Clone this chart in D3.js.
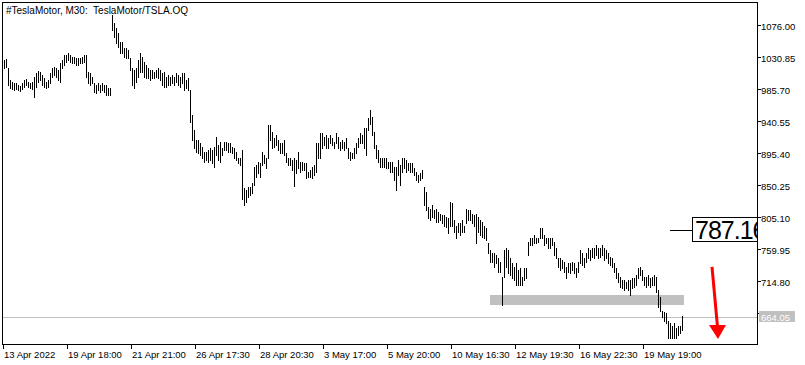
<!DOCTYPE html>
<html>
<head>
<meta charset="utf-8">
<script src="https://cdn.jsdelivr.net/npm/d3@7"></script>
<style>
body { margin: 0; background: #fff; }
svg text { font-family: "Liberation Sans", Arial, sans-serif; white-space: pre; }
</style>
</head>
<body>
<svg id="svg"></svg>
<script>
// M30 bars, high and low of each bar, oldest first
var title = "#TeslaMotor, M30:  TeslaMotor/TSLA.OQ";

var highs = [
    1027,1028,1015,998,995,994,994,991,990,994,
    998,1000,995,994,995,1002,1008,1011,1010,1005,
    1001,995,998,1008,1015,1017,1015,1012,1022,1026,
    1034,1034,1036,1034,1031,1031,1029,1029,1029,1031,
    1034,1034,1010,1008,1002,994,991,994,991,994,
    991,991,987,987,1090,1079,1072,1065,1052,1052,
    1044,1044,1041,1029,1015,1012,1015,1026,1036,1031,
    1024,1019,1015,1012,1012,1010,1012,1015,1012,1008,
    1010,1002,1005,1002,1005,1002,1008,1005,1002,1008,
    1008,998,1001,984,949,928,914,914,909,904,
    897,897,899,902,899,904,918,907,911,902,
    911,911,909,909,904,902,897,888,888,899,
    846,843,847,847,853,875,878,882,881,897,
    892,888,935,935,925,916,921,914,909,909,
    914,895,888,888,885,889,885,897,882,882,
    881,881,868,871,875,878,909,909,923,923,
    918,921,916,921,916,911,923,918,911,914,
    911,916,902,897,895,902,909,916,923,921,
    930,930,945,956,946,925,906,899,889,889,
    888,889,882,882,882,875,875,885,878,888,
    889,885,881,881,881,874,868,864,867,871,
    847,840,819,817,822,815,817,812,810,808,
    808,805,803,826,825,801,793,796,796,801,
    793,817,815,815,810,808,810,805,801,798,
    793,789,768,758,755,754,751,747,741,720,
    758,761,758,747,740,734,740,730,733,720,
    733,733,770,776,776,779,776,776,789,789,
    779,776,775,775,776,770,761,747,747,744,
    741,734,740,740,741,740,733,741,758,754,
    747,754,761,758,762,761,765,761,761,765,
    761,758,754,748,747,740,733,726,720,716,
    716,713,716,716,719,719,723,733,734,730,
    720,720,723,719,720,723,720,702,692,673,
    671,669,659,655,652,655,649,652,652,665
];

var lows = [
    1015,1017,991,987,986,984,986,984,983,986,
    988,991,988,987,986,974,988,995,998,991,
    988,987,988,994,1002,1005,1002,998,995,1015,
    1019,1024,1026,1024,1022,1022,1019,1019,1022,1022,
    1024,1002,994,991,994,981,980,984,981,984,
    981,977,977,977,1069,1059,1051,1045,1036,1036,
    1031,1029,1029,1012,991,987,995,1002,1010,1010,
    1002,1001,1001,998,1001,1001,1002,1001,998,991,
    988,988,991,991,994,991,995,991,988,994,
    984,987,984,939,914,902,897,895,892,889,
    882,885,882,885,881,875,892,885,882,892,
    899,899,897,897,895,889,885,881,878,831,
    822,826,833,836,839,850,861,867,861,878,
    881,874,889,914,902,904,906,899,895,895,
    892,882,878,878,871,849,867,874,868,871,
    871,860,861,861,860,864,868,888,888,902,
    906,902,902,909,906,902,909,902,899,902,
    899,902,888,885,888,888,895,904,909,909,
    902,892,928,937,921,902,889,882,875,875,
    875,874,874,868,868,857,843,864,850,868,
    874,868,871,868,868,864,857,854,857,860,
    822,815,803,801,805,803,798,798,801,796,
    793,791,782,793,793,784,775,784,779,784,
    784,796,801,801,796,793,768,784,779,777,
    775,772,754,741,741,734,740,727,727,681,
    720,734,726,723,719,716,709,709,709,709,
    716,719,751,765,765,768,768,770,775,776,
    765,768,761,762,765,751,747,734,730,733,
    727,719,727,726,730,726,720,727,740,737,
    734,741,747,744,748,747,751,747,748,751,
    744,747,740,737,734,727,719,713,706,705,
    702,705,702,695,705,706,709,719,723,716,
    709,706,709,706,709,709,699,678,673,664,
    659,655,634,634,635,635,635,638,641,645
];

var xTickBars = [0, 32, 64, 96, 128, 160, 192, 224, 256, 288, 320];
var xTickLabels = ["13 Apr 2022", "19 Apr 18:00", "21 Apr 21:00", "26 Apr 17:30",
    "28 Apr 20:30", "3 May 17:00", "5 May 20:00", "10 May 16:30",
    "12 May 19:30", "16 May 22:30", "19 May 19:00"];
var yTicks = [1076.00, 1030.85, 985.70, 940.55, 895.40, 850.25, 805.10, 759.95, 714.80, 669.65];

var lastPrice = 664.05;
var labelPrice = 787.16;
var zone = { from: 243, to: 340, top: 694.6, bottom: 681 };
var arrowFrom = [354, 734.6];
var arrowTo = [357, 633];

//////////////////////////////////////////////////////////////////////////////

var width = 805, height = 365;
var plotLeft = 2, plotTop = 2, plotRight = 757, plotBottom = 344;

var x = d3.scaleLinear().domain([0, 377]).range([4, 758]);
var y = d3.scaleLinear().domain([1076, 714.8]).range([25, 281]);

function px(v) { return Math.round(v) + 0.5; }

var svg = d3.select("#svg")
    .attr("width", width)
    .attr("height", height)
    .style("display", "block");

svg.append("rect")
    .attr("width", width).attr("height", height)
    .attr("fill", "#fff");

// support zone, behind the bars
svg.append("rect")
    .attr("x", Math.round(x(zone.from)))
    .attr("y", Math.round(y(zone.top)))
    .attr("width", Math.round(x(zone.to)) - Math.round(x(zone.from)))
    .attr("height", Math.round(y(zone.bottom)) - Math.round(y(zone.top)))
    .attr("fill", "#c0c0c0");

// bid line
svg.append("line")
    .attr("x1", plotLeft).attr("x2", plotRight)
    .attr("y1", px(y(lastPrice))).attr("y2", px(y(lastPrice)))
    .attr("stroke", "#c0c0c0")
    .attr("shape-rendering", "crispEdges");

var bars = d3.range(highs.length).map(function(i) {
    return { i: i, high: highs[i], low: lows[i] };
});

svg.append("g")
    .selectAll("rect")
    .data(bars)
    .enter()
    .append("rect")
    .attr("x", function(d) { return Math.round(x(d.i)); })
    .attr("y", function(d) { return Math.round(y(d.high)); })
    .attr("width", 1)
    .attr("height", function(d) {
        return Math.max(1, Math.round(y(d.low)) - Math.round(y(d.high)) + 1);
    })
    .attr("fill", "#000")
    .attr("shape-rendering", "crispEdges");

// frame
svg.append("rect")
    .attr("x", plotLeft + 0.5).attr("y", plotTop + 0.5)
    .attr("width", plotRight - plotLeft).attr("height", plotBottom - plotTop)
    .attr("fill", "none")
    .attr("stroke", "#000")
    .attr("shape-rendering", "crispEdges");

// price axis
var yAxis = svg.append("g");
yAxis.selectAll("line")
    .data(yTicks)
    .enter()
    .append("line")
    .attr("x1", plotRight).attr("x2", plotRight + 4)
    .attr("y1", function(d) { return px(y(d)); })
    .attr("y2", function(d) { return px(y(d)); })
    .attr("stroke", "#000")
    .attr("shape-rendering", "crispEdges");
yAxis.selectAll("text")
    .data(yTicks)
    .enter()
    .append("text")
    .attr("x", plotRight + 4)
    .attr("y", function(d) { return Math.round(y(d)) + 4.5; })
    .attr("font-size", "9.5px")
    .attr("fill", "#000")
    .text(function(d) { return d.toFixed(2); });

// time axis
var xAxis = svg.append("g");
xAxis.selectAll("line")
    .data(xTickBars)
    .enter()
    .append("line")
    .attr("x1", function(d) { return px(x(d) - 1); })
    .attr("x2", function(d) { return px(x(d) - 1); })
    .attr("y1", plotBottom).attr("y2", plotBottom + 5)
    .attr("stroke", "#000")
    .attr("shape-rendering", "crispEdges");
xAxis.selectAll("text")
    .data(xTickBars)
    .enter()
    .append("text")
    .attr("x", function(d) { return Math.round(x(d)); })
    .attr("y", 357.5)
    .attr("font-size", "9.5px")
    .attr("fill", "#000")
    .text(function(d, k) { return xTickLabels[k]; });

// bid label on the axis
var bidY = Math.round(y(lastPrice));
svg.append("rect")
    .attr("x", plotRight + 2).attr("y", bidY - 6)
    .attr("width", 36).attr("height", 11)
    .attr("fill", "#c0c0c0");
svg.append("text")
    .attr("x", plotRight + 4)
    .attr("y", bidY + 4)
    .attr("font-size", "9.5px")
    .attr("fill", "#fff")
    .text(lastPrice.toFixed(2));

// price label object
var labY = Math.round(y(labelPrice));
svg.append("line")
    .attr("x1", 670).attr("x2", 692)
    .attr("y1", labY + 0.5).attr("y2", labY + 0.5)
    .attr("stroke", "#000")
    .attr("shape-rendering", "crispEdges");
svg.append("clipPath").attr("id", "labclip")
    .append("rect")
    .attr("x", 692).attr("y", labY - 13)
    .attr("width", plotRight - 692).attr("height", 26);
svg.append("rect")
    .attr("x", 692.5).attr("y", labY - 12.5)
    .attr("width", plotRight - 692).attr("height", 24)
    .attr("fill", "#fff")
    .attr("stroke", "#000")
    .attr("shape-rendering", "crispEdges");
svg.append("text")
    .attr("x", 695)
    .attr("y", labY + 9)
    .attr("font-size", "25px")
    .attr("letter-spacing", "-1px")
    .attr("fill", "#000")
    .attr("clip-path", "url(#labclip)")
    .text(labelPrice.toFixed(2));

// red arrow
var ax1 = x(arrowFrom[0]), ay1 = y(arrowFrom[1]);
var ax2 = x(arrowTo[0]), ay2 = y(arrowTo[1]);
svg.append("line")
    .attr("x1", ax1).attr("y1", ay1)
    .attr("x2", ax2 - 0.5).attr("y2", ay2 - 12)
    .attr("stroke", "#ff0000")
    .attr("stroke-width", 3);
svg.append("path")
    .attr("d", "M" + (ax2 - 9) + "," + (ay2 - 14) +
               "L" + (ax2 + 8) + "," + (ay2 - 14) +
               "L" + ax2 + "," + ay2 + "Z")
    .attr("fill", "#ff0000");

// title
svg.append("text")
    .attr("x", 6).attr("y", 14)
    .attr("font-size", "10px")
    .attr("fill", "#000")
    .attr("xml:space", "preserve")
    .text(title);
</script>
</body>
</html>
